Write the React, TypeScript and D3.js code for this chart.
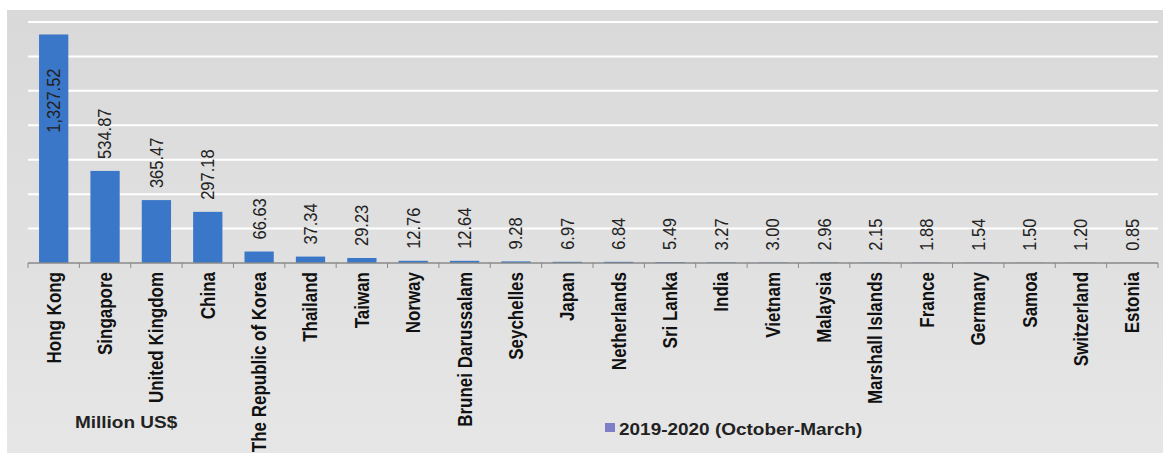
import React from "react";
import * as d3 from "d3";

const categories = [
  "Hong Kong", "Singapore", "United Kingdom", "China", "The Republic of Korea",
  "Thailand", "Taiwan", "Norway", "Brunei Darussalam", "Seychelles", "Japan",
  "Netherlands", "Sri Lanka", "India", "Vietnam", "Malaysia", "Marshall Islands",
  "France", "Germany", "Samoa", "Switzerland", "Estonia",
];
const values = [
  1327.52, 534.87, 365.47, 297.18, 66.63, 37.34, 29.23, 12.76, 12.64, 9.28, 6.97,
  6.84, 5.49, 3.27, 3.0, 2.96, 2.15, 1.88, 1.54, 1.5, 1.2, 0.85,
];
const yTicks = [0, 200, 400, 600, 800, 1000, 1200, 1400];
const seriesName = "2019-2020 (October-March)";
const unitLabel = "Million US$";

const W = 1169;
const H = 453;
const SX = 1.15;

export default function App() {
  const left = 28, right = 1158, top = 22, base = 263;
  const x = d3.scaleBand<string>().domain(categories).range([left, right]).paddingInner(0.43).paddingOuter(0.215);
  const y = d3.scaleLinear().domain([0, 1400]).range([base, top]);
  const step = x.step();
  const fmt = d3.format(",.2f");
  const valFont = 16.5;
  const approxLen = (s: string) => s.length * valFont * 0.52;

  return (
    <svg width={W} height={H} style={{ position: "absolute", left: 0, top: 0 }} fontFamily="'Liberation Sans', Arial, sans-serif">
      <defs>
        <linearGradient id="bg" x1="0" y1="0" x2="0" y2="1">
          <stop offset="0" stopColor="#d9d9d9" />
          <stop offset="1" stopColor="#e6e6e6" />
        </linearGradient>
      </defs>
      <rect x={0} y={0} width={W} height={H} fill="#ffffff" />
      <rect x={7} y={10} width={1156} height={H - 10} fill="url(#bg)" />
      {yTicks.slice(1).map((t) => (
        <line key={t} x1={left} x2={right} y1={y(t)} y2={y(t)} stroke="#ffffff" strokeWidth={2} />
      ))}
      {categories.map((c, i) => {
        const v = values[i];
        const bx = x(c)!;
        const bw = x.bandwidth();
        const by = y(v);
        const cx = bx + bw / 2;
        const label = fmt(v);
        const outsideTop = by - 12 - approxLen(label);
        const inside = outsideTop < 0;
        const ly = inside ? by + 34 : by - 12;
        return (
          <g key={c}>
            <rect x={bx} y={by} width={bw} height={base - by} fill="#3b77c8" />
            <text
              transform={`translate(${cx},${ly}) scale(${SX},1) rotate(-90)`}
              textAnchor={inside ? "end" : "start"}
              dominantBaseline="central"
              fontSize={valFont}
              fill="#222"
            >
              {label}
            </text>
            <text
              transform={`translate(${cx},${base + 9}) scale(${SX},1) rotate(-90)`}
              textAnchor="end"
              dominantBaseline="central"
              fontSize={17}
              fontWeight="bold"
              fill="#111"
            >
              {c}
            </text>
          </g>
        );
      })}
      <line x1={left} x2={right} y1={base} y2={base} stroke="#8a8a8a" strokeWidth={1.5} />
      {d3.range(categories.length + 1).map((i) => (
        <line key={i} x1={left + i * step} x2={left + i * step} y1={base} y2={base + 5} stroke="#8a8a8a" strokeWidth={1} />
      ))}
      <text transform={`translate(75,428) scale(${SX},1)`} fontSize={16.5} fontWeight="bold" fill="#222">
        {unitLabel}
      </text>
      <rect x={605} y={423} width={10} height={9} fill="#7f7fc8" />
      <text transform={`translate(619,435) scale(${SX},1)`} fontSize={16.5} fontWeight="bold" fill="#222">
        {seriesName}
      </text>
    </svg>
  );
}
